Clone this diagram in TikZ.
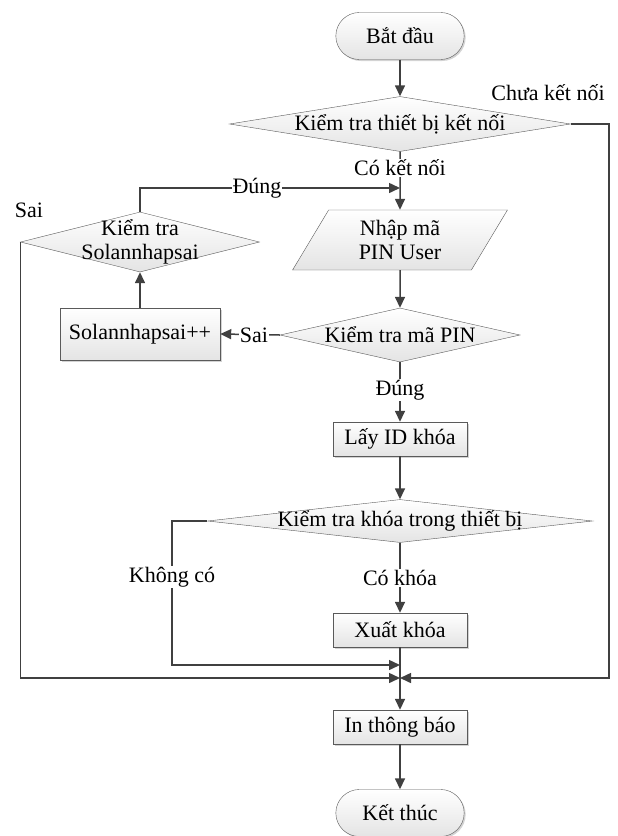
\documentclass[tikz,border=0pt]{standalone}
\usepackage{fontspec}
\setmainfont{Liberation Serif}
\usetikzlibrary{shapes.geometric,shapes.misc,arrows.meta,shadows}
\definecolor{linegray}{HTML}{404040}
\definecolor{edgegray}{HTML}{5A5A5A}
\definecolor{fillgray}{HTML}{E4E4E4}
\begin{document}
\begin{tikzpicture}[x=1pt, y=-1pt,
    every node/.style={font=\fontsize{22}{24}\selectfont, align=center},
    term/.style={rounded rectangle, draw=edgegray, top color=white, bottom color=fillgray, minimum width=135pt, minimum height=47pt, drop shadow={shadow xshift=1.5pt, shadow yshift=-1.5pt, opacity=0.35}},
    proc/.style={rectangle, draw=edgegray, top color=white, bottom color=fillgray, minimum width=134pt, minimum height=34pt, drop shadow={shadow xshift=1.5pt, shadow yshift=-1.5pt, opacity=0.35}},
    dec/.style={diamond, draw=edgegray, top color=white, bottom color=fillgray, inner sep=-8pt},
    io/.style={trapezium, trapezium left angle=64, trapezium right angle=116, trapezium stretches=true, draw=edgegray, top color=white, bottom color=fillgray},
    lbl/.style={fill=white, inner sep=1pt},
    arr/.style={-{Triangle[length=11pt,width=10pt]}, line width=1.5pt, draw=linegray}]
    \useasboundingbox (0,0) rectangle (618,836);
    \node[term] (n0) at (400,36) {Bắt đầu};
    \node[dec, aspect=6.2, minimum width=341pt, minimum height=55pt] (n1) at (400,124) {Kiểm tra thiết bị kết nối};
    \node[io, minimum width=215pt, minimum height=60pt] (n2) at (400,240) {Nhập mã\\PIN User};
    \node[dec, aspect=4, minimum width=239pt, minimum height=60pt] (n3) at (140,242) {Kiểm tra\\Solannhapsai};
    \node[dec, aspect=4.4, minimum width=240pt, minimum height=54pt] (n4) at (400,335) {Kiểm tra mã PIN};
    \node[proc, minimum width=160pt, minimum height=52pt] (n5) at (140,334) {Solannhapsai++};
    \node[proc] (n6) at (400,439) {Lấy ID khóa};
    \node[dec, aspect=9, minimum width=385pt, minimum height=43pt] (n7) at (400,521) {Kiểm tra khóa trong thiết bị};
    \node[proc] (n8) at (400,630) {Xuất khóa};
    \node[proc] (n9) at (400,727) {In thông báo};
    \node[term] (n10) at (400,813) {Kết thúc};
    \coordinate (j0) at (400,188);
    \coordinate (j1) at (400,665);
    \coordinate (j2) at (400,678);
    \coordinate (k1) at (172,665);
    \coordinate (r1) at (609,678);
    \draw[arr] (n0.south) -- (n1.north);
    \draw[arr] (n1.south) -- (n2.north);
    \draw[arr] (n1.east) -| (r1) -- (j2);
    \draw[arr] (n3.north) |- (j0);
    \draw[arr] (n2.south) -- (n4.north);
    \draw[arr] (n4.west) -- (n5.east);
    \draw[arr] (n5.north) -- (n3.south);
    \draw[arr] (n3.west) |- (j2);
    \draw[arr] (n4.south) -- (n6.north);
    \draw[arr] (n6.south) -- (n7.north);
    \draw[arr] (n7.west) -| (k1) -- (j1);
    \draw[arr] (n7.south) -- (n8.north);
    \draw[arr] (n8.south) -- (n9.north);
    \draw[arr] (n9.south) -- (n10.north);
    \node (t1) at (548,93) {Chưa kết nối};
    \node[lbl] (t2) at (400,168) {Có kết nối};
    \node[lbl] (t3) at (257,188) {Đúng};
    \node (t4) at (29,210) {Sai};
    \node[lbl] (t5) at (254,335) {Sai};
    \node[lbl] (t6) at (400,390) {Đúng};
    \node[lbl] (t7) at (172,577) {Không có};
    \node[lbl] (t8) at (400,578) {Có khóa};
\end{tikzpicture}
\end{document}
